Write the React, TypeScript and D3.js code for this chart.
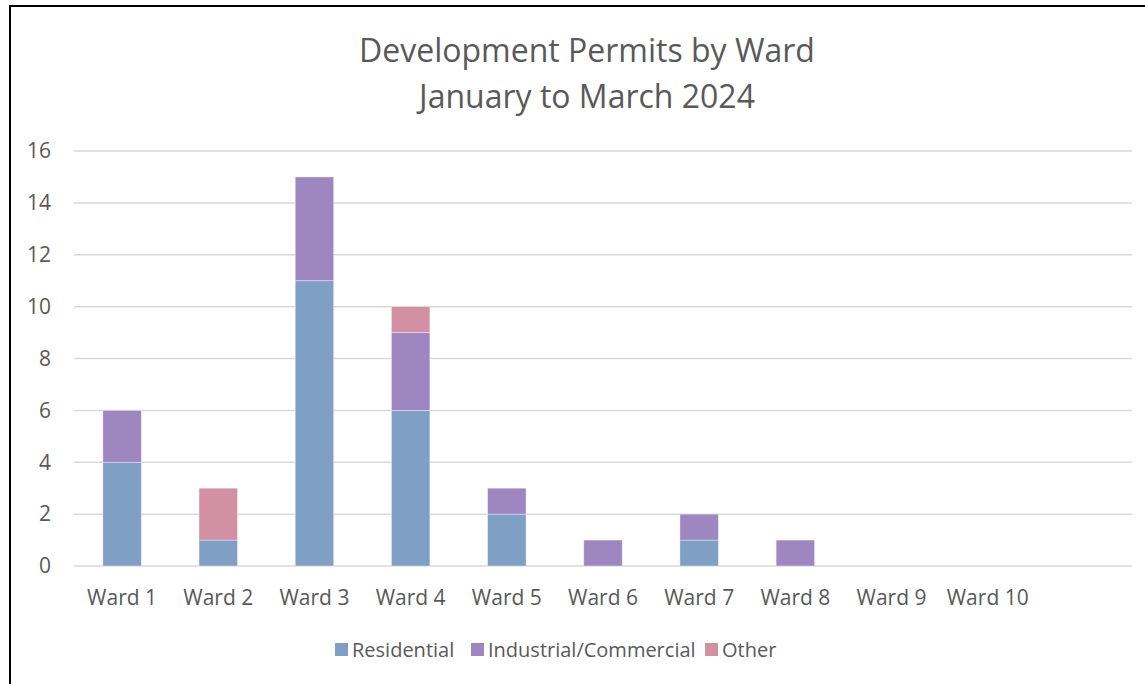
import React from "react";
import * as d3 from "d3";

const categories = ["Ward 1", "Ward 2", "Ward 3", "Ward 4", "Ward 5", "Ward 6", "Ward 7", "Ward 8", "Ward 9", "Ward 10", ""];
const residential = [4, 1, 11, 6, 2, 0, 1, 0, 0, 0, 0];
const industrial = [2, 0, 4, 3, 1, 1, 1, 1, 0, 0, 0];
const other = [0, 2, 0, 1, 0, 0, 0, 0, 0, 0, 0];
const seriesNames = ["Residential", "Industrial/Commercial", "Other"];
const colors = ["#7f9fc4", "#9e86c0", "#d290a5"];
const yTicks = [0, 2, 4, 6, 8, 10, 12, 14, 16];
const titleLines = ["Development Permits by Ward", "January to March 2024"];

const W = 1145, H = 684;
const FONT = "'Open Sans', sans-serif";
const TXT = "#595959";

export default function App() {
  const x = d3.scaleBand().domain(categories.map((_, i) => String(i))).range([74, 1132]).paddingInner(0.6).paddingOuter(0.3);
  const y = d3.scaleLinear().domain([0, 16]).range([566, 151]);
  const rows = categories.map((c, i) => ({ key: String(i), Residential: residential[i], "Industrial/Commercial": industrial[i], Other: other[i] }));
  const stack = d3.stack<any>().keys(seriesNames)(rows);
  const legendItems = [
    { name: seriesNames[0], x: 335 },
    { name: seriesNames[1], x: 471 },
    { name: seriesNames[2], x: 705 },
  ];
  return (
    <svg width={W} height={H} style={{ position: "absolute", left: 0, top: 0 }} fontFamily={FONT}>
      <rect x={0} y={0} width={W} height={H} fill="#fff" />
      <rect x={10} y={6} width={W + 20} height={H + 20} fill="none" stroke="#000" strokeWidth={2} />
      {titleLines.map((t, i) => (
        <text key={i} x={587} y={62 + i * 46} textAnchor="middle" fontSize={32} fill={TXT}>{t}</text>
      ))}
      {yTicks.map((t) => (
        <g key={t}>
          <line x1={74} x2={1132} y1={y(t)} y2={y(t)} stroke="#d9d9d9" strokeWidth={1.5} />
          <text x={51} y={y(t)} dy="0.35em" textAnchor="end" fontSize={21} fill={TXT}>{t}</text>
        </g>
      ))}
      {stack.map((s, si) => (
        <g key={s.key} fill={colors[si]}>
          {s.map((d, i) => d[1] - d[0] > 0 ? (
            <rect key={i} x={x(String(i))!} width={x.bandwidth()} y={y(d[1])} height={y(d[0]) - y(d[1])} stroke="#ffffff" strokeOpacity={0.5} strokeWidth={0.75} />
          ) : null)}
        </g>
      ))}
      {categories.map((c, i) => (
        <text key={i} x={(x(String(i)) as number) + x.bandwidth() / 2} y={605} textAnchor="middle" fontSize={21} fill={TXT}>{c}</text>
      ))}
      {legendItems.map((l, i) => (
        <g key={l.name}>
          <rect x={l.x} y={643} width={13} height={13} fill={colors[i]} />
          <text x={l.x + 17} y={657} fontSize={20} fill={TXT}>{l.name}</text>
        </g>
      ))}
    </svg>
  );
}
